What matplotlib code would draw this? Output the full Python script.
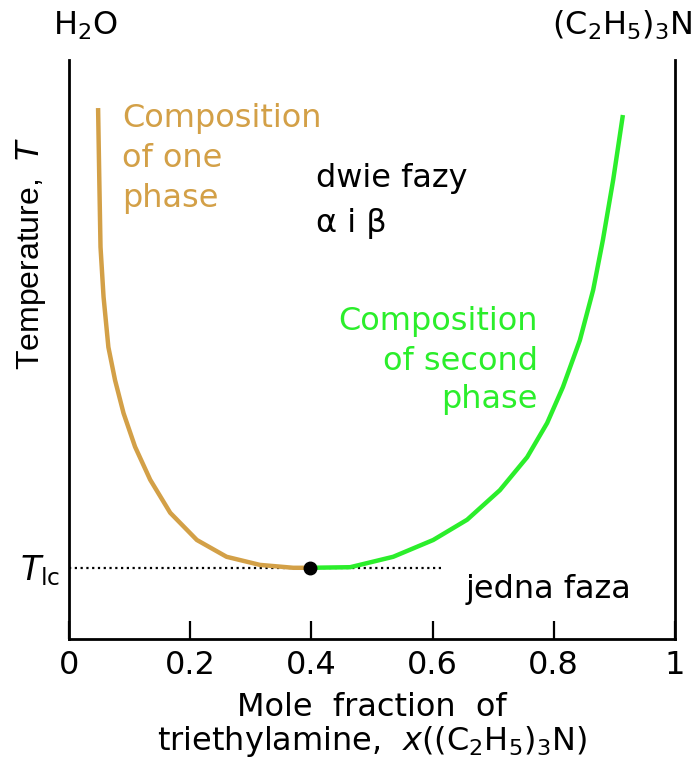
import matplotlib
matplotlib.use("Agg")
import matplotlib.pyplot as plt

plt.rcParams['font.family'] = ['DejaVu Sans']
plt.rcParams['mathtext.fontset'] = 'dejavusans'

# phase boundary (x = mole fraction, T in arbitrary 0..1 units)
x_one = [0.048, 0.050, 0.052, 0.057, 0.065, 0.076, 0.090, 0.109, 0.134,
         0.167, 0.211, 0.260, 0.315, 0.370, 0.397]
t_one = [0.917, 0.793, 0.677, 0.591, 0.504, 0.447, 0.390, 0.332, 0.275,
         0.218, 0.171, 0.142, 0.128, 0.123, 0.123]
x_two = [0.397, 0.464, 0.535, 0.601, 0.657, 0.711, 0.756, 0.789, 0.815,
         0.843, 0.865, 0.881, 0.898, 0.914]
t_two = [0.123, 0.124, 0.142, 0.171, 0.206, 0.257, 0.314, 0.373, 0.435,
         0.516, 0.603, 0.689, 0.793, 0.905]

x_lc, t_lc = 0.397, 0.123
dotted_end = 0.615
xticks = [0, 0.2, 0.4, 0.6, 0.8, 1]
xticklabels = ['0', '0.2', '0.4', '0.6', '0.8', '1']

gold = '#D3A047'
green = '#2BEE2B'
fs = 23

W, H = 696, 762
fig = plt.figure(figsize=(W / 100, H / 100), dpi=100)
ax = fig.add_axes([69 / W, 123 / H, 606 / W, 579 / H])


def px(x, y):
    # figure fraction from pixel position (origin top-left)
    return x / W, 1 - y / H


ax.plot(x_one, t_one, color=gold, lw=3.2, solid_capstyle='butt', solid_joinstyle='round')
ax.plot(x_two, t_two, color=green, lw=3.2, solid_capstyle='butt', solid_joinstyle='round')
ax.plot([0, dotted_end], [t_lc, t_lc], color='black', lw=1.6, ls=(0, (1, 1.6)), zorder=1)
ax.plot(x_lc, t_lc, 'o', color='black', ms=9, zorder=5)

ax.set_xlim(0, 1)
ax.set_ylim(0, 1)
ax.spines['top'].set_visible(False)
for s in ['left', 'right', 'bottom']:
    ax.spines[s].set_linewidth(2)
ax.set_xticks(xticks)
ax.set_xticklabels(xticklabels, fontsize=fs)
ax.tick_params(axis='x', direction='in', length=13, width=1.6, pad=8)
ax.set_yticks([])

# labels inside the plot, one text per line, placed on their baselines
for txt, y in zip(['Composition', 'of one', 'phase'], [127, 167, 207]):
    fig.text(*px(122, y), txt, color=gold, fontsize=fs, ha='left', va='baseline')
for txt, y in zip(['Composition', 'of second', 'phase'], [330, 370, 408]):
    fig.text(*px(538, y), txt, color=green, fontsize=fs, ha='right', va='baseline')
fig.text(*px(316, 187), 'dwie fazy', fontsize=fs, ha='left', va='baseline')
fig.text(*px(316, 232), 'α i β', fontsize=fs, ha='left', va='baseline')
fig.text(*px(466, 598), 'jedna faza', fontsize=fs, ha='left', va='baseline')
fig.text(*px(60, 580), r'$T_{\mathrm{lc}}$', fontsize=fs + 1, ha='right', va='baseline')

fig.text(*px(53, 35), r'H$_2$O', fontsize=fs, ha='left', va='baseline')
fig.text(*px(693, 35), r'(C$_2$H$_5$)$_3$N', fontsize=fs, ha='right', va='baseline')
fig.text(*px(31, 253), 'Temperature,  $T$', fontsize=fs, rotation=90,
         ha='center', va='center', family='Liberation Sans')
fig.text(*px(372, 716), 'Mole  fraction  of', fontsize=fs, ha='center', va='baseline')
fig.text(*px(372, 750), r'triethylamine,  $x$((C$_2$H$_5$)$_3$N)', fontsize=fs,
         ha='center', va='baseline')

fig.savefig('out.png', dpi=100)
